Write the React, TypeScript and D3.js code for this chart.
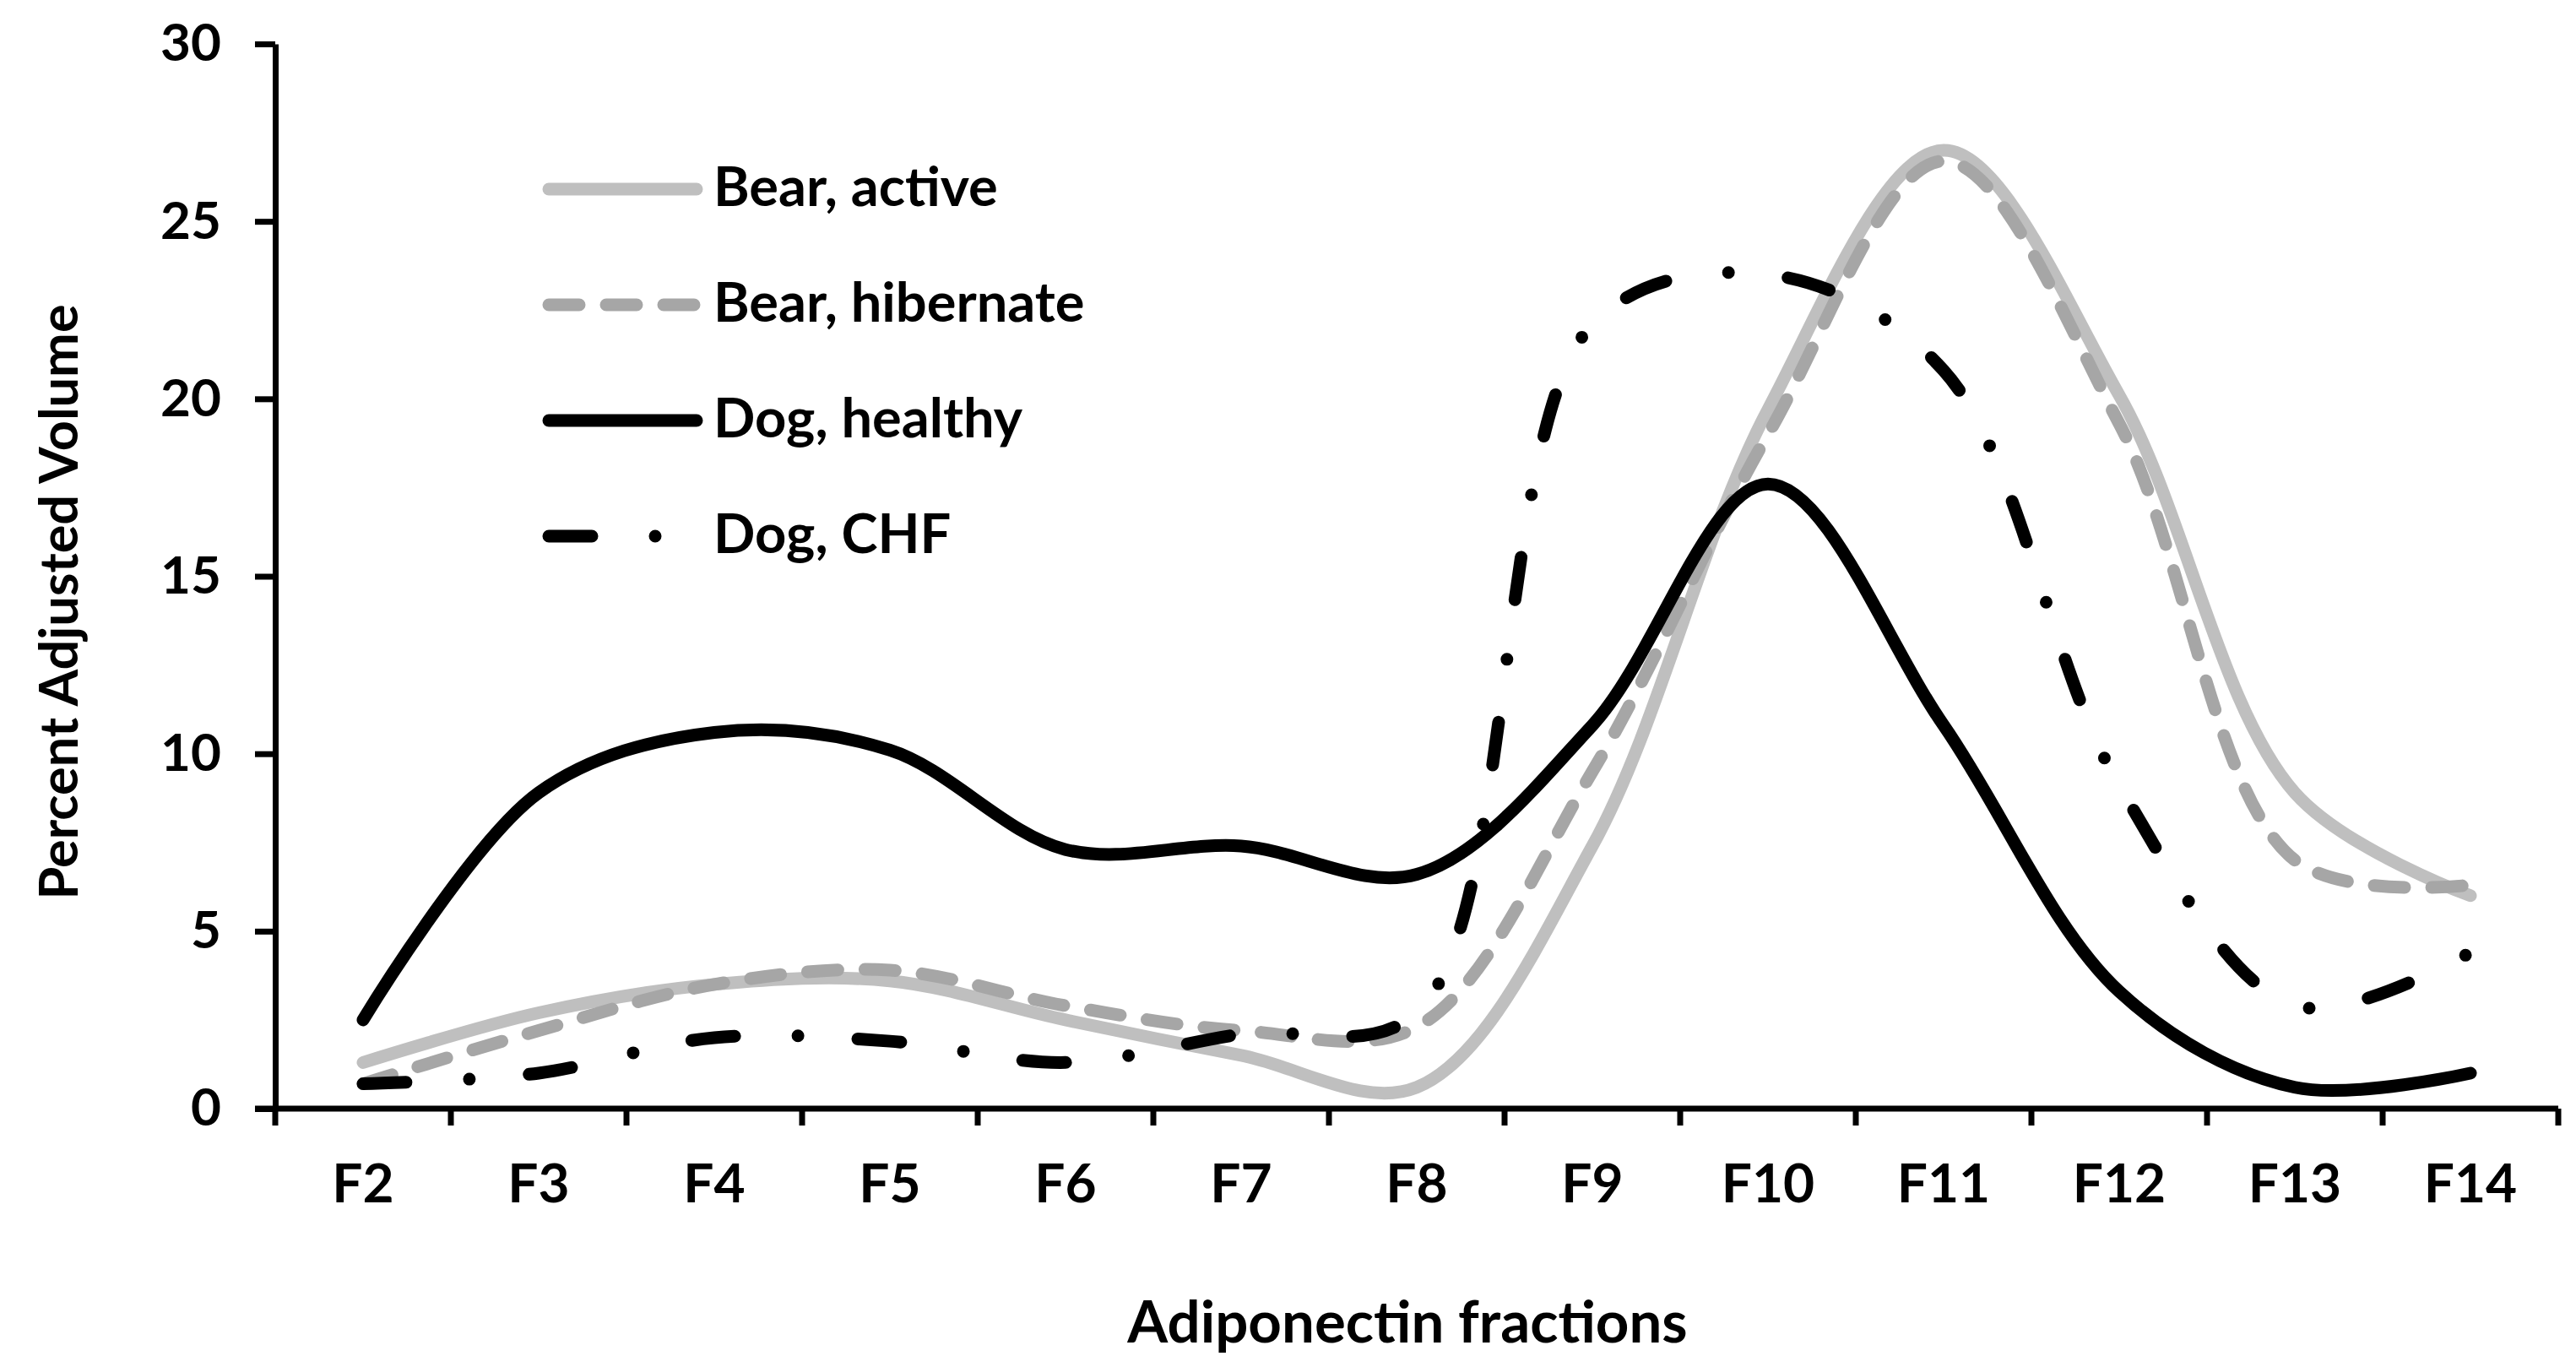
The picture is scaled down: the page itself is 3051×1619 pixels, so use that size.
import { useEffect, useRef } from "react";
import * as d3 from "d3";

const categories = ["F2", "F3", "F4", "F5", "F6", "F7", "F8", "F9", "F10", "F11", "F12", "F13", "F14"];
const bearActive = [1.3, 2.7, 3.5, 3.6, 2.5, 1.5, 0.6, 7.4, 19.7, 27.0, 20.1, 8.9, 6.0];
const bearHibernate = [0.7, 2.2, 3.5, 3.9, 2.9, 2.2, 2.3, 9.5, 19.0, 26.7, 19.3, 7.0, 6.3];
const dogHealthy = [2.5, 8.9, 10.6, 10.1, 7.3, 7.4, 6.6, 10.8, 17.6, 10.8, 3.3, 0.6, 1.0];
const dogCHF = [0.7, 1.0, 2.0, 1.9, 1.3, 2.1, 2.7, 22.1, 23.5, 20.8, 9.1, 2.9, 4.4];
const yTicks = [0, 5, 10, 15, 20, 25, 30];

const series = [
  { name: "Bear, active", values: bearActive, color: "#bfbfbf", dash: null },
  { name: "Bear, hibernate", values: bearHibernate, color: "#a6a6a6", dash: "36 32" },
  { name: "Dog, healthy", values: dogHealthy, color: "#000000", dash: null },
  { name: "Dog, CHF", values: dogCHF, color: "#000000", dash: "51 75 0 71" },
];

const FONT = "Lato, 'Open Sans', sans-serif";

export default function App() {
  const svgRef = useRef<SVGSVGElement>(null);

  useEffect(() => {
    document.body.style.margin = "0";
    if (!svgRef.current) return;
    const svg = d3.select(svgRef.current);
    svg.selectAll("*").remove();

    const left = 326, right = 3030, top = 52, bottom = 1313;

    const x = d3.scaleBand<string>().domain(categories).range([left, right]).padding(0);
    const y = d3.scaleLinear().domain([0, 30]).range([bottom, top]);
    const cx = (c: string) => (x(c) as number) + x.bandwidth() / 2;

    // lines
    const line = d3.line<number>()
      .x((_, i) => cx(categories[i]))
      .y(d => y(d))
      .curve(d3.curveCatmullRom.alpha(0.5));

    series.forEach(s => {
      svg.append("path")
        .datum(s.values)
        .attr("fill", "none")
        .attr("stroke", s.color)
        .attr("stroke-width", 15)
        .attr("stroke-linecap", "round")
        .attr("stroke-linejoin", "round")
        .attr("stroke-dasharray", s.dash)
        .attr("d", line);
    });

    // Y axis
    const yAxis = svg.append("g")
      .attr("transform", `translate(${left},0)`)
      .call(d3.axisLeft(y).tickValues(yTicks).tickSize(24).tickSizeOuter(0).tickPadding(40));
    yAxis.selectAll("path, line").attr("stroke", "#000").attr("stroke-width", 7);
    yAxis.selectAll("text")
      .attr("font-family", FONT).attr("font-weight", 700).attr("font-size", 62).attr("fill", "#000");

    // X axis: labels at band centers, ticks on band edges
    const xAxis = svg.append("g")
      .attr("transform", `translate(0,${bottom})`)
      .call(d3.axisBottom(x).tickSize(0).tickSizeOuter(0));
    xAxis.select(".domain").attr("stroke", "#000").attr("stroke-width", 7)
      .attr("d", `M${left - 24},0H${right}`);
    xAxis.selectAll("text")
      .attr("y", 111).attr("dy", null)
      .attr("font-family", FONT).attr("font-weight", 700).attr("font-size", 64).attr("fill", "#000");
    xAxis.selectAll(".edge-tick")
      .data(d3.range(categories.length + 1))
      .enter()
      .append("line")
      .attr("class", "edge-tick")
      .attr("x1", i => left + i * x.step()).attr("x2", i => left + i * x.step())
      .attr("y1", 0).attr("y2", 20)
      .attr("stroke", "#000").attr("stroke-width", 7);

    // Axis titles
    svg.append("text")
      .attr("x", 1667).attr("y", 1590)
      .attr("text-anchor", "middle")
      .attr("font-family", FONT).attr("font-weight", 700).attr("font-size", 69)
      .text("Adiponectin fractions");

    svg.append("text")
      .attr("transform", `translate(92,713) rotate(-90)`)
      .attr("text-anchor", "middle")
      .attr("font-family", FONT).attr("font-weight", 700).attr("font-size", 63)
      .text("Percent Adjusted Volume");

    // Legend
    const legend = svg.append("g").attr("transform", "translate(650,224)");
    series.forEach((s, i) => {
      const row = legend.append("g").attr("transform", `translate(0,${i * 137})`);
      row.append("line")
        .attr("x1", 0).attr("x2", 175).attr("y1", 0).attr("y2", 0)
        .attr("stroke", s.color).attr("stroke-width", 15)
        .attr("stroke-linecap", "round")
        .attr("stroke-dasharray", s.dash);
      row.append("text")
        .attr("x", 195).attr("y", 20)
        .attr("font-family", FONT).attr("font-weight", 700).attr("font-size", 65)
        .text(s.name);
    });
  }, []);

  return (
    <svg ref={svgRef} width={3051} height={1619} style={{ display: "block", background: "#fff" }} />
  );
}
